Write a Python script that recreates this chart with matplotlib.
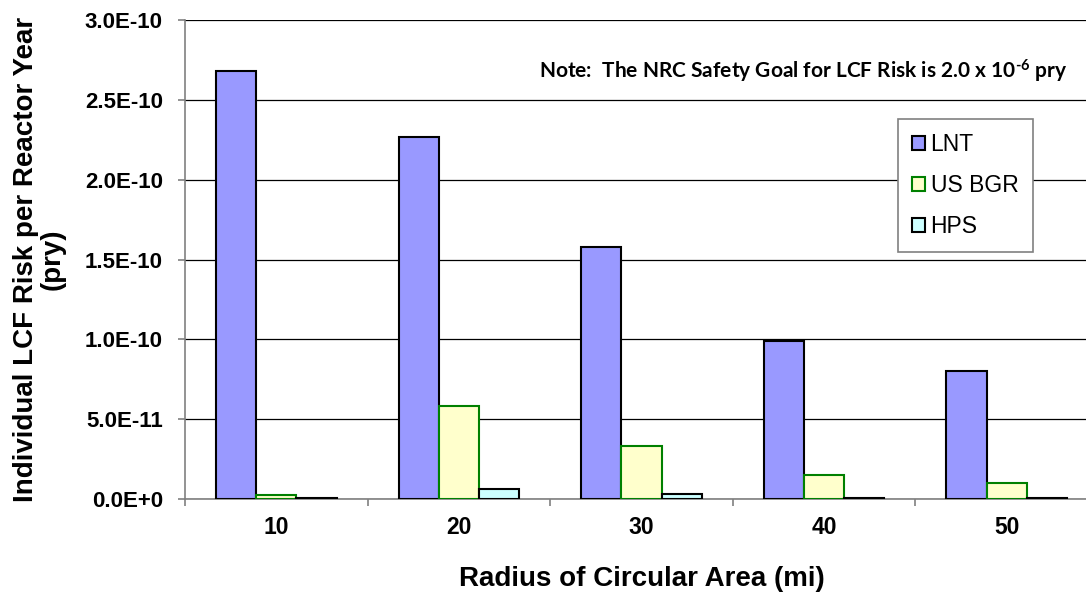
import matplotlib
matplotlib.use("Agg")
import matplotlib.pyplot as plt
import numpy as np

# values
radii = ["10", "20", "30", "40", "50"]
lnt = [2.68e-10, 2.27e-10, 1.58e-10, 0.99e-10, 0.80e-10]
us_bgr = [2.3e-12, 5.8e-11, 3.3e-11, 1.5e-11, 1.0e-11]
hps = [0.9e-12, 6.5e-12, 3.0e-12, 0.9e-12, 0.8e-12]
y_ticks = [0, 0.5e-10, 1.0e-10, 1.5e-10, 2.0e-10, 2.5e-10, 3.0e-10]
y_tick_labels = ["0.0E+0", "5.0E-11", "1.0E-10", "1.5E-10", "2.0E-10", "2.5E-10", "3.0E-10"]

SERIES = [
    ("LNT", lnt, "#9999FF", "#000000"),
    ("US BGR", us_bgr, "#FFFFCC", "#008000"),
    ("HPS", hps, "#CCFFFF", "#000000"),
]
BAR_W = 0.22

plt.rcParams.update({
    "font.family": ["Liberation Sans", "DejaVu Sans"],
    "mathtext.fontset": "custom",
    "mathtext.rm": "Lato:bold",
    "mathtext.bf": "Lato:bold",
    "mathtext.it": "Lato:bold",
})

fig = plt.figure(figsize=(10.86, 5.92), dpi=100)
# axes runs a little past the right edge, as in the reference
ax = fig.add_axes([185 / 1086, 1 - 499 / 592, 913 / 1086, 479 / 592])

x = np.arange(len(radii))
for i, (name, vals, fc, ec) in enumerate(SERIES):
    ax.bar(x + (i - 1) * BAR_W, vals, width=BAR_W, color=fc, edgecolor=ec,
           linewidth=1.5, label=name, zorder=3)

ax.set_xlim(-0.5, len(radii) - 0.5)
ax.set_ylim(0, 3.0e-10)
ax.set_yticks(y_ticks)
ax.set_yticklabels(y_tick_labels, fontsize=16, fontweight="bold")
ax.set_xticks(x)
ax.set_xticklabels(radii, fontsize=16.5, fontweight="bold")
ax.set_xticks(np.arange(-0.5, len(radii)), minor=True)
ax.tick_params(axis="x", which="major", length=0, pad=12)
ax.tick_params(axis="x", which="minor", length=5, width=1.2, color="#808080", direction="out")
ax.tick_params(axis="y", length=5, width=1.2, color="#808080", direction="out", pad=11)

ax.grid(axis="y", color="#000000", linewidth=0.9, zorder=0)
ax.set_axisbelow(True)
for s in ("top", "right"):
    ax.spines[s].set_visible(False)
for s in ("left", "bottom"):
    ax.spines[s].set_color("#808080")
    ax.spines[s].set_linewidth(1.2)

ax.set_xlabel("Radius of Circular Area (mi)", fontsize=20, fontweight="bold", labelpad=20)
ax.set_ylabel("Individual LCF Risk per Reactor Year\n(pry)", fontsize=20,
              fontweight="bold", labelpad=14, linespacing=1.0)

ax.text(0.983, 0.88,
        r"Note:  The NRC Safety Goal for LCF Risk is 2.0 x 10$^{\text{-6}}$ pry",
        transform=fig.transFigure, ha="right", va="center",
        fontsize=15, fontweight="bold", family=["Lato", "DejaVu Sans"])

leg = ax.legend(loc="upper left", bbox_to_anchor=(898 / 1086, 1 - 119 / 592),
                bbox_transform=fig.transFigure, fontsize=16.5, frameon=True,
                fancybox=False, edgecolor="#808080", framealpha=1,
                handlelength=0.55, handleheight=0.55, handletextpad=0.25,
                labelspacing=0.78, borderpad=0.62, borderaxespad=0)
leg.get_frame().set_linewidth(1.2)
leg.set_zorder(5)

fig.savefig("out.png", dpi=100)
